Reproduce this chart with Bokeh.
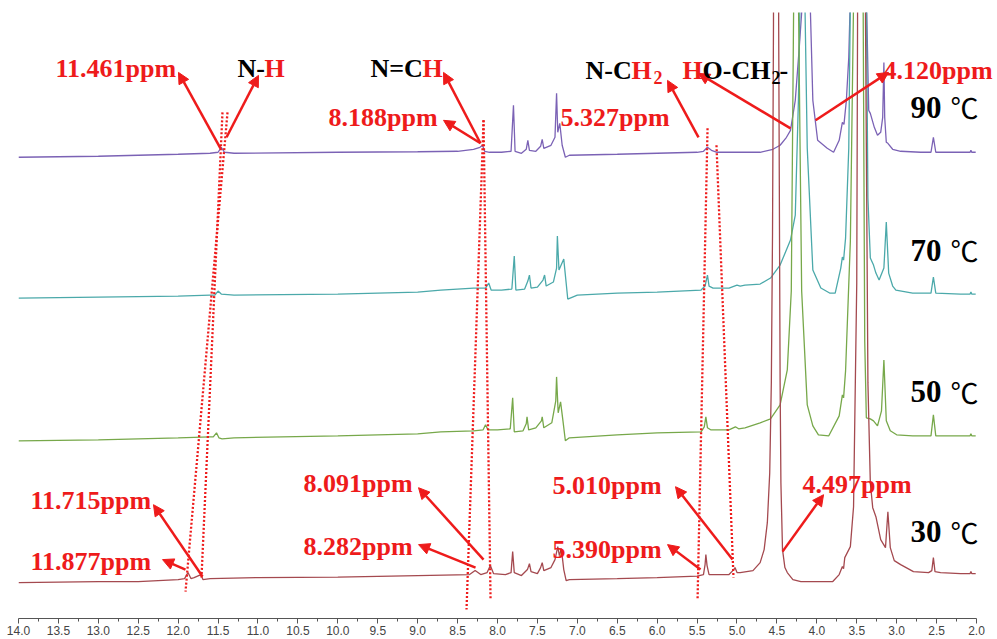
import numpy as np
from bokeh.plotting import figure
from bokeh.models import Range1d, FixedTicker, Arrow, NormalHead, Label, PrintfTickFormatter
from bokeh.embed import file_html
from bokeh.resources import INLINE

# ---------------- data (chemical shift in ppm, intensity in arbitrary units) -------------
tick_values = [14.0, 13.5, 13.0, 12.5, 12.0, 11.5, 11.0, 10.5, 10.0, 9.5, 9.0, 8.5, 8.0,
               7.5, 7.0, 6.5, 6.0, 5.5, 5.0, 4.5, 4.0, 3.5, 3.0, 2.5, 2.0]
minor_values = [13.75, 13.25, 12.75, 12.25, 11.75, 11.25, 10.75, 10.25, 9.75, 9.25, 8.75,
                8.25, 7.75, 7.25, 6.75, 6.25, 5.75, 5.25, 4.75, 4.25, 3.75, 3.25, 2.75, 2.25]

temperatures = ["90", "70", "50", "30"]

ppm90 = [14.0, 13.0, 12.0, 11.6, 11.50, 11.46, 11.42, 11.3, 10.0, 9.0,
         8.5, 8.30, 8.22, 8.188, 8.16, 8.10, 7.95, 7.83, 7.80, 7.78,
         7.70, 7.64, 7.62, 7.60, 7.52, 7.46, 7.44, 7.42, 7.33, 7.28,
         7.26, 7.245, 7.22, 7.19, 7.15, 7.10, 6.5, 6.0, 5.5, 5.42,
         5.37, 5.32, 5.25, 4.71, 4.55, 4.46, 4.38, 4.33, 4.27, 4.22,
         4.19, 4.13, 4.08, 4.05, 3.99, 3.87, 3.79, 3.72, 3.68, 3.66,
         3.63, 3.60, 3.585, 3.48, 3.375, 3.35, 3.33, 3.28, 3.24, 3.20,
         3.175, 3.16, 3.15, 3.13, 3.11, 3.05, 2.95, 2.70, 2.57, 2.54,
         2.51, 2.20, 2.08, 2.07, 2.06, 2.01]
int90 = [0, 1, 3, 4, 5, 10, 5, 4, 5, 5.5,
         6, 8, 10, 12, 6, 5, 5, 6, 52, 6,
         4, 8, 17, 7, 6, 11, 18, 9, 12, 20,
         64, 25, 34, 12, 0, 2, 3, 4, 5, 6,
         10, 7, 5, 5, 8, 12, 20, 27, 57, 110,
         145, 1500, 145, 57, 17, 9, 5, 17, 35, 33,
         57, 100, 146, 1500, 146, 47, 44, 30, 22, 25,
         40, 95, 40, 15, 14, 8, 6, 5, 5, 20,
         5, 5, 5, 7, 5, 5]

ppm70 = [14.0, 13.0, 12.0, 11.6, 11.54, 11.50, 11.46, 11.3, 10.0, 9.0,
         8.71, 8.30, 8.15, 8.11, 8.08, 7.95, 7.82, 7.79, 7.77, 7.66,
         7.62, 7.60, 7.58, 7.50, 7.43, 7.41, 7.39, 7.30, 7.26, 7.25,
         7.23, 7.17, 7.14, 7.12, 7.0, 6.5, 6.0, 5.45, 5.40, 5.37,
         5.35, 5.30, 5.10, 5.00, 4.96, 4.90, 4.71, 4.58, 4.46, 4.33,
         4.27, 4.23, 4.21, 4.18, 4.15, 4.12, 4.05, 3.95, 3.84, 3.77,
         3.70, 3.68, 3.665, 3.64, 3.60, 3.58, 3.48, 3.38, 3.36, 3.33,
         3.29, 3.26, 3.22, 3.16, 3.13, 3.10, 3.05, 3.01, 2.80, 2.57,
         2.54, 2.51, 2.20, 2.08, 2.07, 2.06, 2.01]
int70 = [0, 1, 2, 3, 3, 7, 4, 3, 4, 6,
         8, 10, 10, 15, 8, 8, 9, 42, 8, 9,
         17, 23, 10, 11, 18, 23, 12, 16, 30, 62,
         28, 39, 15, -1, 3, 5, 6, 8, 12, 23,
         12, 10, 10, 13, 12, 13, 14, 20, 33, 58,
         83, 200, 300, 2000, 300, 150, 28, 10, 5, 5,
         30, 41, 38, 60, 150, 300, 2000, 300, 100, 40,
         33, 25, 18, 30, 76, 25, 12, 8, 5, 5,
         21, 5, 4, 4, 6, 4, 4]

ppm50 = [14.0, 13.0, 12.0, 11.6, 11.56, 11.52, 11.49, 11.45, 11.3, 10.0,
         9.0, 8.71, 8.30, 8.18, 8.15, 8.12, 8.0, 7.84, 7.81, 7.79,
         7.68, 7.64, 7.63, 7.61, 7.52, 7.45, 7.44, 7.42, 7.32, 7.27,
         7.26, 7.24, 7.21, 7.18, 7.15, 7.10, 6.5, 6.0, 5.45, 5.41,
         5.39, 5.37, 5.33, 5.10, 5.02, 4.98, 4.90, 4.71, 4.58, 4.46,
         4.37, 4.32, 4.29, 4.26, 4.23, 4.19, 4.12, 4.05, 3.98, 3.85,
         3.72, 3.68, 3.665, 3.64, 3.58, 3.54, 3.48, 3.42, 3.40, 3.38,
         3.33, 3.29, 3.24, 3.19, 3.16, 3.13, 3.08, 3.0, 2.80, 2.57,
         2.54, 2.51, 2.20, 2.08, 2.07, 2.06, 2.01]
int50 = [0, 1, 3, 4, 4, 8, 3, 2, 3, 5,
         7, 9, 10, 11, 16, 11, 11, 12, 43, 9,
         10, 17, 24, 11, 13, 20, 24, 13, 18, 40,
         64, 28, 39, 20, 0, 3, 6, 8, 9, 14,
         24, 13, 11, 11, 14, 12, 13, 18, 22, 36,
         71, 150, 440, 3000, 440, 150, 36, 15, 6, 5,
         25, 46, 43, 70, 200, 440, 3000, 440, 100, 23,
         22, 20, 15, 30, 81, 20, 10, 6, 5, 5,
         26, 5, 5, 5, 7, 5, 5]

ppm30 = [14.0, 13.0, 12.5, 12.0, 11.92, 11.877, 11.84, 11.80, 11.715, 11.69,
         11.6, 11.0, 10.0, 9.0, 8.35, 8.28, 8.21, 8.13, 8.09, 8.05,
         7.90, 7.83, 7.81, 7.79, 7.70, 7.625, 7.60, 7.58, 7.50, 7.46,
         7.44, 7.42, 7.33, 7.28, 7.245, 7.225, 7.20, 7.17, 7.14, 7.10,
         6.5, 6.0, 5.5, 5.42, 5.40, 5.39, 5.375, 5.35, 5.10, 5.04,
         5.025, 5.00, 4.96, 4.80, 4.71, 4.66, 4.62, 4.59, 4.57, 4.555,
         4.543, 4.51, 4.478, 4.47, 4.46, 4.45, 4.43, 4.40, 4.37, 4.30,
         4.20, 3.80, 3.72, 3.68, 3.665, 3.65, 3.58, 3.54, 3.50, 3.49,
         3.44, 3.39, 3.36, 3.33, 3.30, 3.26, 3.20, 3.14, 3.11, 3.08,
         3.03, 2.95, 2.79, 2.60, 2.56, 2.54, 2.52, 2.45, 2.20, 2.08,
         2.07, 2.06, 2.01]
int30 = [0, 1, 1, 3, 4, 10, 4, 5, 8, 3,
         4, 5, 5.5, 7, 8, 12, 8, 10, 17, 9,
         8, 10, 31, 10, 7, 13, 19, 11, 9, 15,
         20, 12, 15, 23, 36, 27, 34, 13, 2, 3,
         4, 5, 6.5, 8, 18, 28, 17, 8, 8, 13,
         15, 10, 10, 12, 20, 33, 60, 110, 200, 350,
         560, 3000, 560, 400, 200, 100, 33, 15, 10, 3,
         1, 1, 8, 16, 14, 25, 36, 76, 300, 560,
         3000, 560, 200, 100, 75, 66, 43, 35, 71, 35,
         22, 18, 11, 10, 12, 25, 11, 10, 9, 9,
         11, 9, 9]

# ---------------- styling / layout ----------------
RED = "#EE1B1B"
COLORS = ["#7B62B5", "#4BA9AA", "#77A84A", "#A4494F"]
OFFSETS = [462, 321, 178, 36]
SERIF = "Liberation Serif"

# frame spans the full width to the right so that right-hand labels are not clipped;
# the axis line itself is bounded to 14.0 .. 2.0
p = figure(width=995, height=637, x_range=Range1d(14.0, 1.762), y_range=Range1d(0, 607),
           output_backend="svg", toolbar_location=None,
           min_border_left=18, min_border_right=0, min_border_top=12, min_border_bottom=18)
p.background_fill_color = "white"
p.border_fill_color = "white"
p.outline_line_color = None
p.grid.visible = False
p.yaxis.visible = False

ax = p.xaxis[0]
ax.ticker = FixedTicker(ticks=tick_values, minor_ticks=minor_values)
ax.formatter = PrintfTickFormatter(format="%.1f")
ax.bounds = (2.0, 14.0)
ax.axis_line_color = "#555555"
ax.major_tick_line_color = "#555555"
ax.minor_tick_line_color = "#555555"
ax.major_tick_out = 5
ax.major_tick_in = 0
ax.minor_tick_out = 3
ax.minor_tick_in = 0
ax.major_label_standoff = 2
ax.major_label_text_font = "Liberation Sans"
ax.major_label_text_font_size = "12px"
ax.major_label_text_color = "#444444"

series = [(ppm90, int90), (ppm70, int70), (ppm50, int50), (ppm30, int30)]
for (xs, ys), col, off in zip(series, COLORS, OFFSETS):
    p.line(xs, np.array(ys, dtype=float) + off, line_color=col, line_width=1.3)

# dotted guide lines connecting shifted peaks
p.segment(x0=[11.382, 11.445, 8.175, 8.175, 5.369, 5.257],
          y0=[507, 507, 499, 499, 491, 474],
          x1=[11.908, 11.708, 8.388, 8.087, 5.494, 5.044],
          y1=[27, 41, 9, 19, 19, 41],
          line_color=RED, line_width=2.3, line_dash="2 2")

# arrows (start -> head)
arrows = [
    (11.470, 471, 11.996, 547), (11.394, 482, 10.994, 544),
    (8.213, 476, 8.676, 499), (8.213, 476, 8.676, 547),
    (5.482, 482, 5.870, 539), (4.329, 491, 5.482, 546),
    (4.016, 499, 3.102, 547),
    (11.695, 42, 12.309, 114), (11.908, 49, 12.196, 59),
    (8.175, 59, 8.989, 131), (8.275, 51, 8.989, 74),
    (5.457, 49, 5.870, 74), (5.056, 59, 5.770, 132),
    (4.430, 67, 3.916, 124),
]
for xs, ys, xe, ye in arrows:
    p.add_layout(Arrow(end=NormalHead(size=11, fill_color=RED, line_color=RED, line_width=1),
                       x_start=xs, y_start=ys, x_end=xe, y_end=ye,
                       line_color=RED, line_width=2.5))


def lab(txt, x, y, color, size, bold=True, font=SERIF):
    p.add_layout(Label(x=x, y=y, text=txt, text_color=color, text_font=font,
                       text_font_size=size, text_font_style="bold" if bold else "normal",
                       text_align="left", text_baseline="alphabetic"))


for txt, x, y in [("11.461ppm", 13.537, 551), ("8.188ppm", 10.117, 502),
                  ("5.327ppm", 7.211, 502), ("4.120ppm", 3.164, 549),
                  ("11.715ppm", 13.850, 118), ("11.877ppm", 13.850, 57),
                  ("8.091ppm", 10.430, 135), ("8.282ppm", 10.430, 72),
                  ("5.010ppm", 7.311, 133), ("5.390ppm", 7.311, 69),
                  ("4.497ppm", 4.179, 134)]:
    lab(txt, x, y, RED, "26px")

# group labels with highlighted proton
lab("N-", 11.257, 551, "black", "26px")
lab("H", 10.918, 551, RED, "26px")
lab("N=C", 9.591, 551, "black", "26px")
lab("H", 8.939, 551, RED, "26px")
lab("N-C", 6.897, 549, "black", "26px")
lab("H", 6.321, 549, RED, "26px")
lab("2", 6.046, 542, RED, "18px")
lab("H", 5.682, 549, RED, "26px")
lab("O-CH", 5.432, 549, "black", "26px")
lab("2", 4.567, 542, "black", "18px")
lab("-", 4.467, 549, "black", "26px")

# temperature labels
for t, yy in zip(temperatures, [512, 369, 227, 87]):
    lab(t, 2.826, yy, "black", "31px")
    lab("\u2103", 2.325, yy, "black", "28px", bold=False, font="Noto Sans CJK SC")

open("out.html", "w").write(file_html(p, INLINE))
